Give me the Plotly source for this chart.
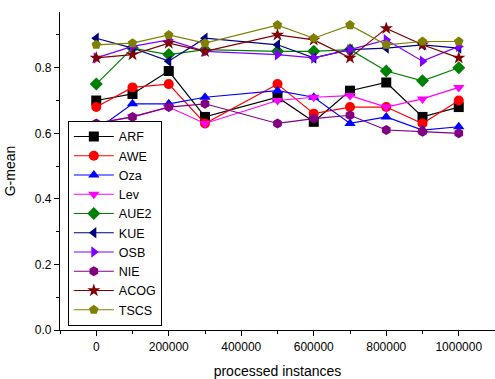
import plotly.graph_objects as go

x = [0, 100000, 200000, 300000, 500000, 600000, 700000, 800000, 900000, 1000000]

ARF  = [0.70, 0.72, 0.79, 0.65, 0.71, 0.635, 0.73, 0.755, 0.65, 0.68]
AWE  = [0.68, 0.74, 0.75, 0.63, 0.75, 0.66, 0.68, 0.68, 0.63, 0.70]
Oza  = [0.61, 0.69, 0.69, 0.71, 0.73, 0.71, 0.63, 0.65, 0.61, 0.62]
Lev  = [0.63, 0.65, 0.68, 0.63, 0.70, 0.71, 0.715, 0.68, 0.705, 0.74]
AUE2 = [0.75, 0.86, 0.84, 0.855, 0.85, 0.85, 0.855, 0.79, 0.76, 0.80]
KUE  = [0.89, 0.86, 0.82, 0.89, 0.87, 0.83, 0.855, 0.86, 0.87, 0.86]
OSB  = [0.83, 0.865, 0.885, 0.85, 0.84, 0.83, 0.855, 0.885, 0.82, 0.865]
NIE  = [0.63, 0.65, 0.68, 0.69, 0.63, 0.645, 0.655, 0.61, 0.605, 0.60]
ACOG = [0.83, 0.84, 0.875, 0.85, 0.90, 0.885, 0.83, 0.92, 0.87, 0.83]
TSCS = [0.87, 0.875, 0.90, 0.875, 0.93, 0.89, 0.93, 0.87, 0.88, 0.88]

series = [
    ("ARF", ARF, "#000000", "square"),
    ("AWE", AWE, "#FF0000", "circle"),
    ("Oza", Oza, "#0000FF", "triangle-up"),
    ("Lev", Lev, "#FF00FF", "triangle-down"),
    ("AUE2", AUE2, "#008000", "diamond"),
    ("KUE", KUE, "#000080", "triangle-left"),
    ("OSB", OSB, "#8000FF", "triangle-right"),
    ("NIE", NIE, "#800080", "hexagon"),
    ("ACOG", ACOG, "#800000", "star"),
    ("TSCS", TSCS, "#808000", "pentagon"),
]

fig = go.Figure()
for name, ys, col, sym in series:
    fig.add_trace(go.Scatter(
        x=x, y=ys, name=name, mode="lines+markers",
        line=dict(color=col, width=1.2),
        marker=dict(symbol=sym, size=10, color=col, line=dict(width=0)),
    ))

font = "Arial, Liberation Sans, sans-serif"
fig.update_layout(
    width=495, height=379,
    margin=dict(l=60, r=0, t=12, b=49),
    plot_bgcolor="white", paper_bgcolor="white",
    font=dict(family=font, size=12, color="black"),
    showlegend=True,
    legend=dict(
        x=0.018, y=0.013, xanchor="left", yanchor="bottom",
        bordercolor="black", borderwidth=1, bgcolor="white",
        font=dict(size=12.5, family=font), tracegroupgap=0, itemwidth=40,
    ),
    xaxis=dict(
        range=[-100000, 1100000], tickvals=[0, 200000, 400000, 600000, 800000, 1000000],
        ticktext=["0", "200000", "400000", "600000", "800000", "1000000"],
        ticks="outside", ticklen=5, tickwidth=1, tickcolor="black",
        minor=dict(dtick=100000, tick0=0, ticks="outside", ticklen=3, tickcolor="black", showgrid=False),
        showline=True, linecolor="black", linewidth=1.3, showgrid=False, zeroline=False,
        tickfont=dict(size=12),
        title=dict(text="processed instances", font=dict(size=14), standoff=13),
    ),
    yaxis=dict(
        range=[0, 0.97], tickvals=[0, 0.2, 0.4, 0.6, 0.8], tickformat=".1f",
        ticks="outside", ticklen=5, tickwidth=1, tickcolor="black",
        minor=dict(dtick=0.1, tick0=0, ticks="outside", ticklen=3, tickcolor="black", showgrid=False),
        showline=True, linecolor="black", linewidth=1.3, showgrid=False, zeroline=False,
        tickfont=dict(size=12),
        title=dict(text="G-mean", font=dict(size=14), standoff=15),
    ),
)

fig.write_html("out.html")
